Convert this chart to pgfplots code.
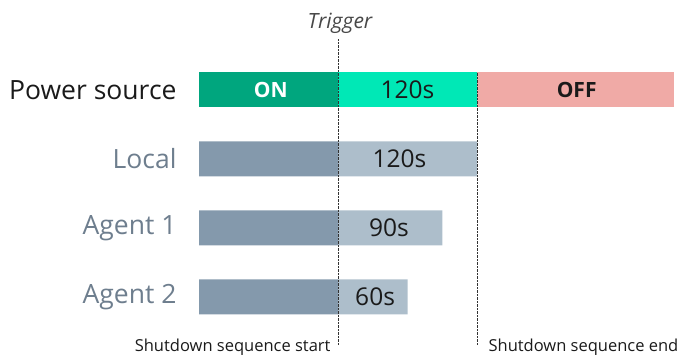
\documentclass[border=0pt]{standalone}
\usepackage{pgfplots}
\pgfplotsset{compat=1.18}
\usepackage{fontspec}
\setmainfont{Open Sans}
\definecolor{ongreen}{HTML}{00A67E}
\definecolor{seqgreen}{HTML}{00E8B6}
\definecolor{offpink}{HTML}{F0AAA6}
\definecolor{greydark}{HTML}{8499AC}
\definecolor{greylight}{HTML}{ADBECB}
\definecolor{labgrey}{HTML}{6E7E8E}
\definecolor{txt}{HTML}{1A1A1A}
\begin{document}
\begin{tikzpicture}
\begin{axis}[
  scale only axis, width=475pt, height=310.5pt,
  xmin=-120, xmax=290, ymin=-0.7, ymax=3.8,
  axis lines=none, clip=false,
  xtick=\empty, ytick=\empty,
  mybar/.style={xbar, bar shift=0pt, bar width=35pt, draw=none},
]
% Power source row (y=3)
\addplot[mybar, fill=offpink] coordinates {(290,3)};
\addplot[mybar, fill=seqgreen] coordinates {(120,3)};
\addplot[mybar, fill=ongreen] coordinates {(-120,3)};
% Local, Agent 1, Agent 2
\addplot[mybar, fill=greydark] coordinates {(-120,2) (-120,1) (-120,0)};
\addplot[mybar, fill=greylight] coordinates {(120,2) (90,1) (60,0)};
% dotted markers
\addplot[densely dotted, black!80, thin] coordinates {(0,-0.69) (0,3.75)};
\addplot[densely dotted, black!80, thin] coordinates {(120,-0.69) (120,3.254)};

% row labels
\node[anchor=east, text=txt, font=\fontsize{26.5}{30}\selectfont] at ([xshift=-19pt]axis cs:-120,3) {Power source};
\node[anchor=east, text=labgrey, font=\fontsize{26.5}{30}\selectfont] at ([xshift=-19pt]axis cs:-120,2) {Local};
\node[anchor=east, text=labgrey, font=\fontsize{26.5}{30}\selectfont] at ([xshift=-19pt]axis cs:-120,1) {Agent 1};
\node[anchor=east, text=labgrey, font=\fontsize{26.5}{30}\selectfont] at ([xshift=-19pt]axis cs:-120,0) {Agent 2};

% bar labels
\node[text=white, font=\bfseries\fontsize{21}{24}\selectfont] at (axis cs:-58,3) {ON};
\node[text=txt, font=\fontsize{24.5}{28}\selectfont] at (axis cs:60,3) {120s};
\node[text=txt, font=\bfseries\fontsize{21}{24}\selectfont] at (axis cs:206,3) {OFF};
\node[text=txt, font=\fontsize{24.5}{28}\selectfont] at (axis cs:53,2) {120s};
\node[text=txt, font=\fontsize{24.5}{28}\selectfont] at (axis cs:44,1) {90s};
\node[text=txt, font=\fontsize{24.5}{28}\selectfont] at (axis cs:32,0) {60s};

% annotations
\node[text=txt!80, font=\itshape\fontsize{21}{25}\selectfont] at (axis cs:1.7,3.97) {Trigger};
\node[anchor=east, text=txt, font=\fontsize{16.5}{19}\selectfont] at ([xshift=-4pt]axis cs:0,-0.725) {Shutdown sequence start};
\node[anchor=west, text=txt, font=\fontsize{16.5}{19}\selectfont] at ([xshift=8pt]axis cs:120,-0.725) {Shutdown sequence end};

\coordinate (bbA) at (axis cs:-291.8,-0.884);
\coordinate (bbB) at (axis cs:297.8,4.304);
\end{axis}
\pgfresetboundingbox
\path (bbA) rectangle (bbB);
\end{tikzpicture}
\end{document}
